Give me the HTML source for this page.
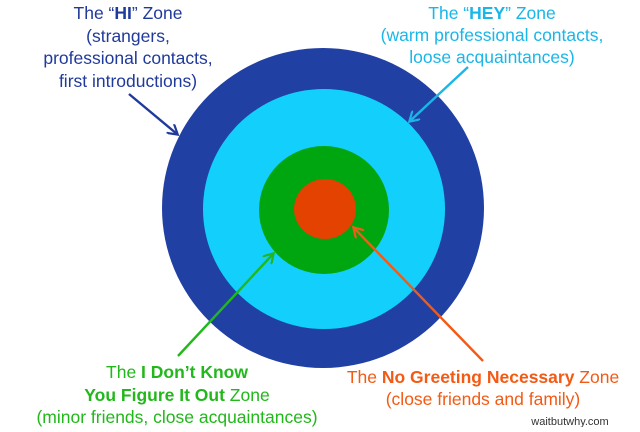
<!DOCTYPE html>
<html><head><meta charset="utf-8"><style>
body{margin:0;width:640px;height:427px;background:#fff;overflow:hidden}
svg text{font-family:"Liberation Sans",sans-serif;font-size:17.5px;text-anchor:middle}
</style></head><body>
<svg width="640" height="427" viewBox="0 0 640 427">
<defs>
<marker id="m1" markerWidth="12" markerHeight="12" refX="9" refY="6" orient="auto" markerUnits="userSpaceOnUse"><path d="M0,0 L10,6 L0,12" fill="none" stroke="#203a9c" stroke-width="2.2"/></marker>
<marker id="m2" markerWidth="12" markerHeight="12" refX="9" refY="6" orient="auto" markerUnits="userSpaceOnUse"><path d="M0,0 L10,6 L0,12" fill="none" stroke="#1ab6e8" stroke-width="2.2"/></marker>
<marker id="m3" markerWidth="12" markerHeight="12" refX="9" refY="6" orient="auto" markerUnits="userSpaceOnUse"><path d="M0,0 L10,6 L0,12" fill="none" stroke="#22b81c" stroke-width="2.2"/></marker>
<marker id="m4" markerWidth="12" markerHeight="12" refX="9" refY="6" orient="auto" markerUnits="userSpaceOnUse"><path d="M0,0 L10,6 L0,12" fill="none" stroke="#f45a14" stroke-width="2.2"/></marker>
</defs>
<ellipse cx="323" cy="208" rx="161" ry="160" fill="#2140a3"/>
<ellipse cx="324" cy="209" rx="121" ry="120" fill="#12d0fb"/>
<ellipse cx="324" cy="210" rx="65" ry="64" fill="#00a60f"/>
<ellipse cx="325" cy="209" rx="31" ry="30" fill="#e34200"/>
<line x1="129" y1="94" x2="177" y2="134" stroke="#203a9c" stroke-width="2.4" marker-end="url(#m1)"/>
<line x1="468" y1="67" x2="410" y2="121" stroke="#1ab6e8" stroke-width="2.4" marker-end="url(#m2)"/>
<line x1="178" y1="356" x2="273" y2="254" stroke="#22b81c" stroke-width="2.4" marker-end="url(#m3)"/>
<line x1="483" y1="361" x2="354" y2="228" stroke="#f45a14" stroke-width="2.4" marker-end="url(#m4)"/>
<g fill="#203a9c">
<text x="128" y="19">The “<tspan font-weight="bold">HI</tspan>” Zone</text>
<text x="128" y="42">(strangers,</text>
<text x="128" y="64">professional contacts,</text>
<text x="128" y="87">first introductions)</text>
</g>
<g fill="#1ab6e8">
<text x="492" y="19">The “<tspan font-weight="bold">HEY</tspan>” Zone</text>
<text x="492" y="41">(warm professional contacts,</text>
<text x="492" y="63">loose acquaintances)</text>
</g>
<g fill="#22b81c">
<text x="177" y="378">The <tspan font-weight="bold">I Don’t Know</tspan></text>
<text x="177" y="401"><tspan font-weight="bold">You Figure It Out</tspan> Zone</text>
<text x="177" y="423">(minor friends, close acquaintances)</text>
</g>
<g fill="#f45a14">
<text x="483" y="383">The <tspan font-weight="bold">No Greeting Necessary</tspan> Zone</text>
<text x="483" y="405">(close friends and family)</text>
</g>
<text x="570" y="425" style="font-size:11px" fill="#333">waitbutwhy.com</text>
</svg>
</body></html>
